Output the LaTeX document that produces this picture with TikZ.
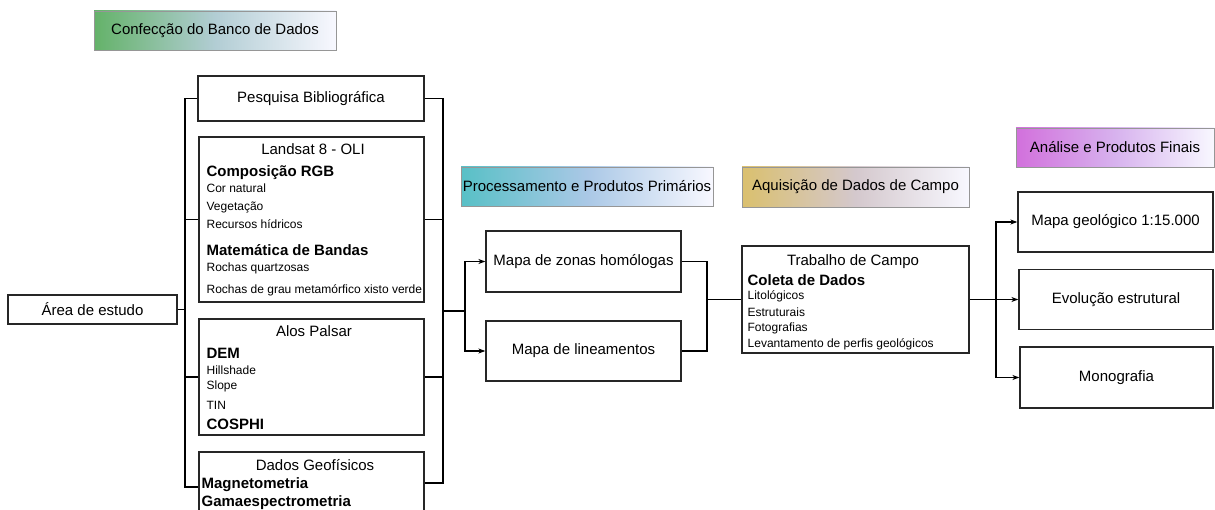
\documentclass[tikz,border=0pt]{standalone}
\usepackage{fontspec}
\setmainfont{Liberation Sans}
\usetikzlibrary{arrows.meta}
\definecolor{tagedge}{RGB}{150,150,150}
\definecolor{tagend}{RGB}{248,248,255}
\begin{document}
\begin{tikzpicture}[x=1pt, y=-1pt, line width=1.3pt, >={Stealth[length=7pt,width=5pt]},
box/.style={draw=black!85, fill=white, inner sep=0pt, font=\fontsize{15}{18}\selectfont},
stage/.style={draw=tagedge, line width=0.9pt, inner sep=0pt, right color=tagend, font=\fontsize{15}{18}\selectfont},
head/.style={inner sep=0pt, anchor=base, font=\fontsize{15}{18}\selectfont},
subhead/.style={inner sep=0pt, anchor=base west, font=\fontsize{15}{18}\selectfont\bfseries},
entry/.style={inner sep=0pt, anchor=base west, font=\fontsize{12}{14}\selectfont}]
\clip (0,0) rectangle (1215,510);
% stage labels
\node[stage, left color={rgb,255:red,100;green,178;blue,105}, middle color={rgb,255:red,178;green,205;blue,212}, minimum width=242, minimum height=39] (conf) at (215,30.5) {Confecção do Banco de Dados};
\node[stage, left color={rgb,255:red,88;green,192;blue,198}, middle color={rgb,255:red,170;green,200;blue,230}, minimum width=252, minimum height=39] (proc) at (587,186.5) {Processamento e Produtos Primários};
\node[stage, left color={rgb,255:red,218;green,192;blue,110}, middle color={rgb,255:red,212;green,200;blue,205}, minimum width=227, minimum height=40] (aqui) at (855.5,187) {Aquisição de Dados de Campo};
\node[stage, left color={rgb,255:red,210;green,112;blue,220}, middle color={rgb,255:red,215;green,178;blue,238}, minimum width=198, minimum height=39] (anal) at (1115,147.5) {Análise e Produtos Finais};
% data base
\node[box, minimum width=169, minimum height=29] (area) at (92.5,309.5) {Área de estudo};
\node[box, minimum width=226, minimum height=45] (pesq) at (311,98.5) {Pesquisa Bibliográfica};
\node[box, minimum width=225, minimum height=165] (land) at (311.5,219.5) {};
\node[box, minimum width=225, minimum height=116] (alos) at (311.5,377) {};
\node[box, minimum width=225, minimum height=90] (geof) at (311.5,497) {};
\node[head] (l0) at (313,155) {Landsat 8 - OLI};
\node[subhead] (l1) at (206,177) {Composição RGB};
\node[entry] (l2) at (206,192.5) {Cor natural};
\node[entry] (l3) at (206,211) {Vegetação};
\node[entry] (l4) at (206,229) {Recursos hídricos};
\node[subhead] (l5) at (206,256) {Matemática de Bandas};
\node[entry] (l6) at (206,271.5) {Rochas quartzosas};
\node[entry] (l7) at (206,294) {Rochas de grau metamórfico xisto verde};
\node[head] (a0) at (314,337) {Alos Palsar};
\node[subhead] (a1) at (206,359) {DEM};
\node[entry] (a2) at (206,374) {Hillshade};
\node[entry] (a3) at (206,389) {Slope};
\node[entry] (a4) at (206,409) {TIN};
\node[subhead] (a5) at (206,429) {COSPHI};
\node[head] (g0) at (315,470) {Dados Geofísicos};
\node[subhead] (g1) at (201,488) {Magnetometria};
\node[subhead] (g2) at (201,506) {Gamaespectrometria};
% processing and field work
\node[box, minimum width=195, minimum height=61] (zonas) at (583.5,261.5) {Mapa de zonas homólogas};
\node[box, minimum width=195, minimum height=60] (linea) at (583.5,351) {Mapa de lineamentos};
\node[box, minimum width=227, minimum height=107] (trab) at (855.5,299.5) {};
\node[head] (t0) at (853,266) {Trabalho de Campo};
\node[subhead] (t1) at (747,285.5) {Coleta de Dados};
\node[entry] (t2) at (747,300) {Litológicos};
\node[entry] (t3) at (747,316.5) {Estruturais};
\node[entry] (t4) at (747,331.5) {Fotografias};
\node[entry] (t5) at (747,348) {Levantamento de perfis geológicos};
% final products
\node[box, minimum width=195, minimum height=60] (mgeo) at (1115.5,222) {Mapa geológico 1:15.000};
\node[box, minimum width=194, minimum height=60] (evol) at (1116,299.5) {Evolução estrutural};
\node[box, minimum width=193, minimum height=61] (mono) at (1116.5,377.5) {Monografia};
% connectors
\coordinate (lbtop) at (185,98.5);
\coordinate (lbbot) at (185,487);
\draw (pesq.west) -- (lbtop) -- (lbbot) -- (lbbot -| geof.west);
\draw (land.west) -- (land.west -| lbtop);
\draw (area.east) -- (area.east -| lbtop);
\draw (alos.west) -- (alos.west -| lbtop);
\coordinate (rbtop) at (443,98.5);
\coordinate (rbbot) at (443,483);
\draw (pesq.east) -- (rbtop) -- (rbbot) -- (rbbot -| geof.east);
\draw (land.east) -- (land.east -| rbtop);
\draw (alos.east) -- (alos.east -| rbtop);
\coordinate (fork1) at (465,311);
\draw (fork1 -| rbtop) -- (fork1);
\draw[->] (fork1) |- (zonas.west);
\draw[->] (fork1) |- (linea.west);
\coordinate (join1) at (707,299.5);
\draw (zonas.east) -| (join1) |- (linea.east);
\draw (join1) -- (trab.west);
\coordinate (fork2) at (996,299.5);
\draw (trab.east) -- (fork2);
\draw[->] (fork2) |- (mgeo.west);
\draw[->] (fork2) |- (mono.west);
\draw[->] (fork2) -- (evol.west);
\end{tikzpicture}
\end{document}
